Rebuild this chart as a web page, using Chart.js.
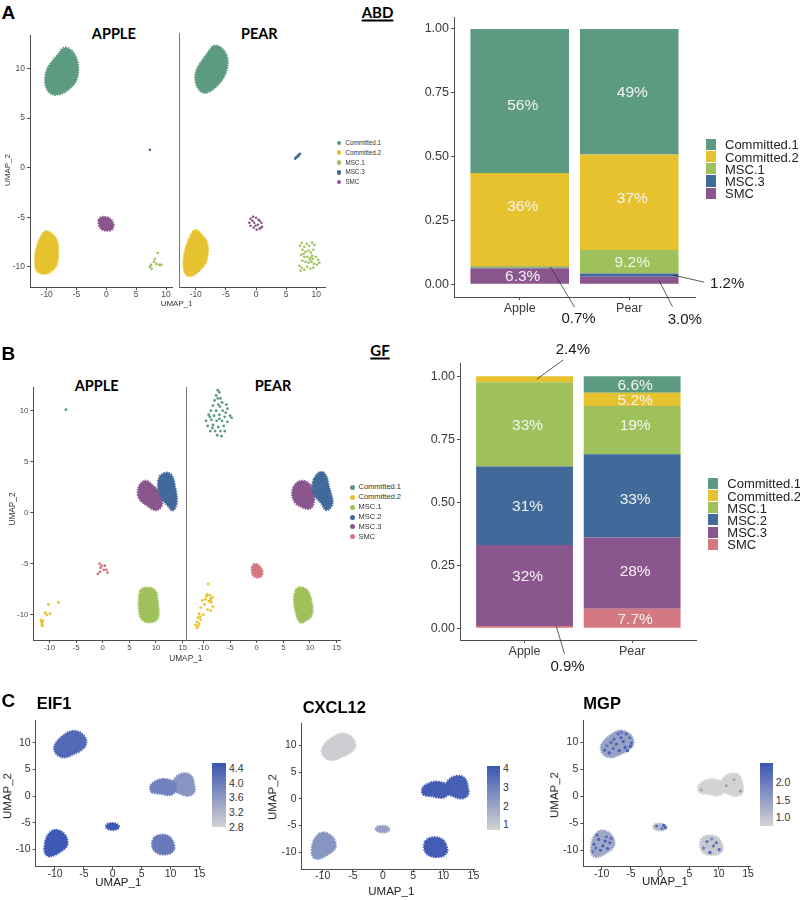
<!DOCTYPE html>
<html>
<head>
<meta charset="utf-8">
<script src="https://cdn.jsdelivr.net/npm/chart.js@4.4.1/dist/chart.umd.min.js"></script>
<style>
  body { margin: 0; background: #fff; }
  #fig { position: relative; width: 800px; height: 900px; overflow: hidden; font-family: "Liberation Sans", Arial, sans-serif; }
  #fig canvas { position: absolute; }
  .t { position: absolute; white-space: nowrap; line-height: 1; }
  .panel { font-weight: bold; font-size: 19px; color: #000; }
  .facet { font-family: Lato, "Open Sans", sans-serif; font-weight: 700; font-size: 14.5px; color: #000; }
  .group { font-family: Lato, "Open Sans", sans-serif; font-weight: 700; font-size: 15px; color: #000; text-decoration: underline; text-decoration-thickness: 1.5px; text-underline-offset: 2px; }
  .gene { font-weight: bold; font-size: 16.5px; color: #000; }
</style>
</head>
<body>
<div id="fig"></div>
<script>
// ---------- data: panel A (ABD) ----------
const abdClusters = ['Committed.1', 'Committed.2', 'MSC.1', 'MSC.3', 'SMC'];
const barGroups = ['Apple', 'Pear'];

// UMAP outlines of dense clusters and single cells of sparse ones (UMAP_1, UMAP_2)
const abdAppleC1 = [[-7.2,12.2],[-6.0,12.0],[-5.0,11.2],[-4.6,10.0],[-4.9,8.8],[-6.0,8.0],[-7.5,7.4],[-9.0,7.3],[-10.0,7.8],[-10.4,8.8],[-10.0,10.0],[-9.0,10.8],[-8.0,11.5]];
const abdAppleC2 = [[-10.0,-6.3],[-9.0,-6.7],[-8.2,-7.3],[-8.0,-8.5],[-8.2,-9.8],[-9.0,-10.4],[-10.3,-10.8],[-11.5,-10.6],[-12.0,-10.0],[-12.0,-8.6],[-11.4,-7.4],[-10.7,-6.6]];
const abdAppleSMC = [[-1.2,-5.0],[0,-4.9],[1.0,-5.3],[1.3,-5.8],[1.0,-6.3],[0,-6.4],[-1.0,-6.2],[-1.4,-5.6]];
const abdAppleMSC1 = [[8.6,-8.6],[7.5,-9.8],[7.6,-10.2],[8.0,-9.5],[8.4,-9.7],[8.9,-9.8],[9.2,-9.8],[7.3,-10.0],[8.1,-9.2]];
const abdAppleMSC3 = [[7.3,1.8]];

const abdPearC1 = [[-7.0,12.2],[-5.8,12.0],[-4.8,11.2],[-4.6,10.2],[-5.2,9.0],[-6.2,8.2],[-7.6,7.5],[-8.8,7.3],[-9.8,7.9],[-10.2,9.0],[-9.7,10.0],[-8.6,10.9],[-7.8,11.6]];
const abdPearC2 = [[-10.0,-6.2],[-9.0,-6.8],[-8.0,-7.5],[-7.9,-8.6],[-8.3,-9.7],[-9.2,-10.3],[-10.3,-10.9],[-11.5,-11.0],[-12.1,-10.2],[-12.0,-8.8],[-11.4,-7.6],[-10.7,-6.6]];
const abdPearSMC = [[-0.9,-5.2],[-0.5,-5.0],[0,-5.1],[0.4,-5.3],[0.9,-5.6],[1.0,-6.0],[0.6,-6.2],[0.1,-6.3],[-0.4,-6.1],[-0.9,-5.9],[-1.1,-5.6],[-0.3,-5.6],[0.3,-5.8],[0.6,-5.4],[-0.6,-5.4],[0.8,-6.1],[-0.1,-5.9]];
const abdPearMSC3 = [[6.5,0.8],[6.7,0.95],[6.9,1.1],[7.1,1.2],[7.3,1.3],[6.6,0.9],[7.0,1.05]];
const abdPearMSC1 = [[7.3,-7.9],[7.6,-7.6],[8.0,-8.0],[8.4,-7.7],[8.8,-7.9],[9.3,-7.6],[9.7,-7.8],[7.7,-8.3],[8.2,-8.5],[8.7,-8.4],[9.1,-8.6],[9.5,-8.3],[7.5,-8.8],[8.0,-9.0],[8.5,-9.0],[9.0,-9.1],[9.4,-9.2],[9.9,-9.0],[10.3,-9.3],[7.7,-9.4],[8.2,-9.5],[8.7,-9.6],[9.2,-9.5],[9.6,-9.7],[10.1,-9.8],[10.5,-9.6],[7.2,-9.9],[7.6,-10.1],[8.0,-10.3],[8.5,-10.0],[9.0,-10.2],[9.5,-10.1],[7.4,-10.4],[8.9,-9.3],[9.3,-8.9],[7.9,-8.7]];

// stacked proportions (%), Apple / Pear
const abdCommitted1 = [56.4, 49.2];
const abdCommitted2 = [36.4, 37.4];
const abdMSC1 = [0.7, 9.2];
const abdMSC3 = [0.2, 1.2];
const abdSMC = [6.3, 3.0];

// ---------- data: panel B (GF) ----------
const gfClusters = ['Committed.1', 'Committed.2', 'MSC.1', 'MSC.2', 'MSC.3', 'SMC'];

const gfAppleC1 = [[-6.9,10.1]];
const gfAppleC2 = [[-8.3,-8.8],[-10.2,-9.0],[-10.8,-9.8],[-9.9,-9.9],[-10.5,-10.0],[-11.6,-10.5],[-11.4,-10.8],[-11.3,-11.1],[-11.5,-10.7],[-11.2,-10.6],[-11.4,-11.0]];
const gfAppleSMC = [[-0.6,-5.0],[-0.2,-5.2],[0.4,-5.2],[0.9,-5.9],[-0.9,-6.0],[0.2,-5.6],[-0.4,-5.4],[0.7,-5.6],[-0.5,-5.8]];
const gfAppleMSC3 = [[7.2,3.0],[8.3,3.2],[9.3,2.7],[10.3,2.3],[11.1,1.6],[11.3,0.8],[10.6,0.3],[9.6,0.2],[8.6,0.6],[7.4,1.0],[6.6,1.5],[6.5,2.3]];
const gfAppleMSC2 = [[11.0,3.8],[12.2,4.0],[13.2,3.6],[13.6,2.5],[14.0,1.5],[13.8,0.5],[13.0,0.1],[12.4,0.6],[11.6,1.0],[10.8,1.6],[10.3,2.5],[10.4,3.3]];
const gfAppleMSC1 = [[7.2,-7.4],[8.3,-7.3],[9.5,-7.4],[10.2,-7.8],[10.4,-9.0],[10.6,-10.0],[10.2,-10.6],[9.0,-10.8],[7.7,-10.7],[6.9,-10.2],[6.7,-9.0],[6.8,-8.0]];

const gfPearC1 = [[-7.3,12.0],[-7.0,11.8],[-7.6,11.5],[-6.8,11.2],[-7.9,11.0],[-6.5,10.8],[-8.2,10.5],[-7.2,10.6],[-5.7,10.6],[-8.6,10.0],[-7.6,10.0],[-6.4,10.0],[-5.5,10.2],[-9.0,9.6],[-8.0,9.5],[-7.0,9.6],[-6.0,9.4],[-5.0,9.5],[-4.7,9.3],[-9.5,9.0],[-8.5,9.1],[-7.5,9.0],[-6.5,9.0],[-5.5,8.9],[-9.2,8.5],[-8.2,8.6],[-7.2,8.4],[-6.2,8.5],[-8.7,8.0],[-7.8,8.0],[-6.8,8.0],[-7.4,7.6],[-6.6,7.5],[-8.3,8.3],[-7.0,9.2],[-6.0,8.0],[-5.8,9.8],[-8.8,9.4],[-7.3,11.2],[-6.9,10.4]];
const gfPearC2 = [[-9.1,-7.0],[-9.3,-8.0],[-8.8,-8.1],[-8.3,-8.3],[-9.6,-8.5],[-8.7,-8.6],[-9.0,-8.7],[-8.5,-8.8],[-10.2,-8.6],[-9.8,-9.0],[-8.2,-9.2],[-10.5,-9.3],[-9.2,-9.5],[-8.6,-9.6],[-10.8,-9.9],[-10.0,-10.0],[-11.0,-10.3],[-10.5,-10.5],[-11.2,-10.7],[-10.8,-10.9],[-11.5,-11.0],[-11.2,-11.3],[-11.0,-11.1],[-10.6,-10.2],[-8.6,-8.4],[-9.4,-8.2]];
const gfPearSMC = [[-0.7,-5.0],[0.1,-5.0],[0.9,-5.4],[1.2,-5.9],[0.9,-6.3],[0,-6.4],[-0.8,-6.2],[-1.0,-5.6]];
const gfPearMSC3 = [[7.3,2.9],[8.4,3.2],[9.6,3.0],[10.6,2.4],[10.9,1.5],[10.6,0.6],[9.7,0.3],[8.6,0.5],[7.4,0.8],[6.7,1.4],[6.6,2.2]];
const gfPearMSC2 = [[11.2,3.8],[12.3,4.1],[13.2,3.6],[13.5,2.6],[14.2,1.5],[14.3,0.8],[13.6,0.3],[12.8,0.2],[12.2,0.9],[11.4,1.3],[10.6,1.8],[10.3,2.8]];
const gfPearMSC1 = [[7.6,-7.3],[8.8,-7.3],[9.8,-7.7],[10.3,-8.6],[10.6,-9.6],[10.2,-10.3],[9.2,-10.6],[8.3,-10.9],[7.6,-10.4],[7.2,-9.6],[6.9,-8.6],[7.1,-7.8]];

const gfCommitted1 = [0, 6.6];
const gfCommitted2 = [2.4, 5.2];
const gfMSC1 = [33.4, 19.2];
const gfMSC2 = [31.2, 33.0];
const gfMSC3 = [32.1, 28.3];
const gfSMC = [0.9, 7.7];

// ---------- data: panel C (feature plots, combined UMAP) ----------
const cOutC1 = [[-6.5,12.3],[-5.3,11.8],[-4.5,10.6],[-4.6,9.4],[-5.5,8.5],[-6.8,7.8],[-8.3,7.1],[-9.6,7.5],[-10.3,8.8],[-9.9,10.1],[-8.8,11.2],[-7.6,12.1]];
const cOutC2 = [[-10.0,-6.1],[-8.6,-6.7],[-7.8,-8.0],[-7.8,-9.4],[-9.0,-10.4],[-10.8,-11.5],[-11.9,-10.8],[-11.8,-8.6],[-11.2,-7.0]];
const cOutMSC1 = [[7.3,-7.4],[8.8,-7.1],[10.0,-7.6],[10.5,-8.6],[10.8,-9.8],[10.2,-10.7],[9.0,-11.0],[7.8,-10.8],[6.9,-10.0],[6.7,-8.6]];
const cOutMSC2 = [[10.5,3.1],[11.3,4.0],[12.4,4.4],[13.5,4.1],[14.0,3.0],[14.1,2.0],[14.3,1.0],[13.7,0.1],[12.5,0.0],[11.6,0.5],[10.6,0.8],[10.2,1.8]];
const cOutMSC3 = [[6.4,1.0],[6.5,2.2],[7.5,2.9],[8.6,3.3],[9.8,3.1],[10.9,2.6],[11.1,1.4],[10.5,0.3],[9.4,0.1],[8.2,0.5],[7.1,0.5]];
const cOutSMC = [[-1.2,-5.3],[-0.4,-5.0],[0.6,-5.1],[1.2,-5.6],[0.9,-6.2],[-0.2,-6.4],[-1.2,-6.0]];

// mean expression per cluster: Committed.1, Committed.2, MSC.1, MSC.2, MSC.3, SMC
const eif1Mean = [4.28, 4.5, 4.05, 3.66, 3.93, 4.5];
const cxcl12Mean = [0.86, 2.4, 3.95, 3.85, 3.95, 2.06];
const mgpMean = [1.46, 1.37, 0.89, 0.75, 0.75, 1.1];
// single high MGP cells [UMAP_1, UMAP_2, expression]
const mgpCells = [[-8.7,8.1,2.4],[-7.5,9.7,2.3],[-6.0,9.1,2.4],[-5.2,10.9,2.2],[-5.8,11.6,2.3],[-7.0,8.5,2.4],[-7.9,10.6,2.2],[-9.1,9.4,2.1],[-6.3,10.2,2.4],[-4.9,9.9,2.3],[-7.2,11.6,2.2],[-5.6,8.5,2.4],[-8.4,10.0,2.3],[-6.7,10.9,2.4],[-8.0,8.9,2.2],[-6.6,11.9,2.1],[-9.5,8.6,2.3],[-5.1,9.3,2.4],
  [-10.5,-8.0,2.3],[-9.2,-7.5,2.2],[-11.3,-8.9,2.3],[-9.8,-9.2,2.4],[-8.6,-8.6,2.2],[-10.2,-10.0,2.3],[-11.0,-9.6,2.1],[-9.4,-8.3,2.4],[-10.8,-7.2,2.2],[-9.0,-9.7,2.3],[-11.5,-10.3,2.0],[-8.4,-7.8,2.2],
  [0.6,-5.4,2.4],[0.9,-5.8,2.3],[-0.6,-5.5,2.1],[0.3,-6.0,2.0],
  [8.0,-8.4,2.1],[9.1,-9.2,2.0],[8.5,-10.4,2.4],[7.4,-9.6,1.9],[9.6,-8.6,2.1],[8.8,-7.9,1.8],[10.1,-9.9,2.2],
  [11.3,2.0,1.4],[13.7,1.0,1.5],[7.0,1.2,1.3],[12.6,3.1,1.3]];

const umapX = [-10, -5, 0, 5, 10];
const umapXWide = [-10, -5, 0, 5, 10, 15];
const umapY = [-10, -5, 0, 5, 10];
const propTicks = [0, 0.25, 0.5, 0.75, 1];
const eif1Ticks = [2.8, 3.2, 3.6, 4.0, 4.4];
const cxcl12Ticks = [1, 2, 3, 4];
const mgpTicks = [1.0, 1.5, 2.0];

// ---------- styles ----------
const abdColors = { 'Committed.1': '#5c9a81', 'Committed.2': '#e6c22f', 'MSC.1': '#9fc15b', 'MSC.3': '#41699a', 'SMC': '#8b568d' };
const gfColors = { 'Committed.1': '#5c9a81', 'Committed.2': '#e6c22f', 'MSC.1': '#9fc15b', 'MSC.2': '#41699a', 'MSC.3': '#8b568d', 'SMC': '#d47882' };
const LOW = [211, 211, 211], HIGH = [59, 86, 178];
const AX = '#4d4d4d';

Chart.defaults.font.family = '"Liberation Sans", Arial, sans-serif';
const fig = document.getElementById('fig');

function text(str, x, y, css, mode) {
  const d = document.createElement('div');
  d.className = 't';
  d.textContent = str;
  d.style.cssText += css || '';
  d.style.left = x + 'px';
  d.style.top = y + 'px';
  d.style.transform = mode === 'l' ? 'translateY(-50%)'
    : mode === 'v' ? 'translate(-50%,-50%) rotate(-90deg)' : 'translate(-50%,-50%)';
  fig.appendChild(d);
  return d;
}

function canvasAt(b) {
  const c = document.createElement('canvas');
  c.width = b.w; c.height = b.h;
  c.style.left = b.x + 'px'; c.style.top = b.y + 'px';
  c.style.width = b.w + 'px'; c.style.height = b.h + 'px';
  fig.appendChild(c);
  return c;
}

// padding that puts the chart area exactly where the reference has it
function pad(b, a, yw, xh) {
  return { left: a.l - b.x - yw, top: a.t - b.y, right: b.x + b.w - a.r, bottom: b.y + b.h - a.b - xh };
}

function shade(v, range) {
  const t = Math.max(0, Math.min(1, (v - range[0]) / (range[1] - range[0])));
  const c = LOW.map((lo, i) => Math.round(lo + (HIGH[i] - lo) * t));
  return `rgb(${c[0]},${c[1]},${c[2]})`;
}

function xAxis(range, ticks, size, xh, color, tpad) {
  return {
    type: 'linear', min: range[0], max: range[1], offset: false,
    afterBuildTicks: s => { s.ticks = ticks.map(v => ({ value: v })); },
    afterFit: s => { s.height = xh; },
    grid: { drawOnChartArea: false, tickLength: 3, color: AX, offset: false },
    border: { color: AX, width: 1 },
    ticks: { font: { size }, color, padding: tpad || 0, maxRotation: 0, autoSkip: false, callback: v => String(v) }
  };
}

function yAxis(range, ticks, size, yw, color, hidden) {
  if (hidden) {
    return {
      type: 'linear', min: range[0], max: range[1],
      afterFit: s => { s.width = 0; },
      ticks: { display: false },
      grid: { drawOnChartArea: false, drawTicks: false },
      border: { color: '#777', width: 1, dash: [2.5, 2] }
    };
  }
  return {
    type: 'linear', min: range[0], max: range[1],
    afterBuildTicks: s => { s.ticks = ticks.map(v => ({ value: v })); },
    afterFit: s => { s.width = yw; },
    grid: { drawOnChartArea: false, tickLength: 3, color: AX },
    border: { color: AX, width: 1 },
    ticks: { font: { size }, color, padding: 2, autoSkip: false, callback: v => String(v) }
  };
}

// fills dense clusters as smooth shapes through the outline points placed by the scales
const blobPlugin = {
  id: 'blobs',
  beforeDatasetsDraw(chart) {
    const { ctx, chartArea: a } = chart;
    ctx.save();
    ctx.beginPath();
    ctx.rect(a.left, a.top, a.width, a.height);
    ctx.clip();
    chart.data.datasets.forEach((ds, i) => {
      if (!ds.blob) return;
      const p = chart.getDatasetMeta(i).data;
      const n = p.length;
      const mid = (u, v) => [(u.x + v.x) / 2, (u.y + v.y) / 2];
      ctx.beginPath();
      let m = mid(p[n - 1], p[0]);
      ctx.moveTo(m[0], m[1]);
      for (let k = 0; k < n; k++) {
        m = mid(p[k], p[(k + 1) % n]);
        ctx.quadraticCurveTo(p[k].x, p[k].y, m[0], m[1]);
      }
      ctx.closePath();
      ctx.fillStyle = ds.blobColor;
      ctx.fill();
      ctx.lineWidth = 2;
      ctx.strokeStyle = ds.blobColor;
      ctx.setLineDash([1.5, 1]);
      ctx.stroke();
      ctx.setLineDash([]);
    });
    ctx.restore();
  }
};

function umap(b, a, xr, yr, xTicks, groups, st) {
  const datasets = groups.map(g => ({
    data: g.cells.map(c => ({ x: c[0], y: c[1] })),
    blob: !!g.blob,
    blobColor: g.color,
    backgroundColor: g.color,
    borderWidth: 0,
    pointRadius: g.blob ? 0 : (g.r || st.r),
    pointHoverRadius: 0
  }));
  return new Chart(canvasAt(b), {
    type: 'scatter',
    data: { datasets },
    options: {
      responsive: false, animation: false, events: [],
      layout: { padding: pad(b, a, st.hideY ? 0 : st.yw, st.xh), autoPadding: false },
      plugins: { legend: { display: false }, tooltip: { enabled: false } },
      scales: {
        x: xAxis(xr, xTicks, st.font, st.xh, st.color, st.xpad),
        y: yAxis(yr, umapY, st.font, st.yw, st.color, st.hideY)
      }
    },
    plugins: [blobPlugin]
  });
}

const pctText = v => (v >= 10 ? Math.round(v) : v.toFixed(1)) + '%';

// shift: per-cluster vertical nudge of the in-bar label [Apple, Pear], px
function stackedBars(b, a, yr, clusters, values, colors, callouts, shift) {
  // bottom segment first
  const datasets = clusters.map((name, i) => ({
    label: name,
    pct: values[i],
    data: values[i].map((v, j) => ({ x: j + 1, y: v / 100 })),
    backgroundColor: colors[name],
    borderWidth: 0,
    categoryPercentage: 1,
    barPercentage: 0.9
  })).reverse();

  const labels = {
    id: 'segLabels',
    afterDraw(chart) {
      const ctx = chart.ctx;
      ctx.save();
      ctx.textAlign = 'center';
      ctx.textBaseline = 'middle';
      ctx.font = '15.5px "Liberation Sans", Arial, sans-serif';
      ctx.fillStyle = '#f4f4f4';
      chart.data.datasets.forEach((ds, i) => {
        chart.getDatasetMeta(i).data.forEach((bar, j) => {
          const v = ds.pct[j];
          const dy = (shift[ds.label] || [0, 0])[j];
          if (v >= 5) ctx.fillText(pctText(v), bar.x + 3, (bar.y + bar.base) / 2 + 1 + dy);
        });
      });
      ctx.font = '15px "Liberation Sans", Arial, sans-serif';
      ctx.fillStyle = '#1a1a1a';
      ctx.strokeStyle = '#333';
      ctx.lineWidth = 0.8;
      callouts.forEach(c => {
        const i = chart.data.datasets.findIndex(ds => ds.label === c.name);
        const bar = chart.getDatasetMeta(i).data[c.bar];
        const ax = bar.x + c.at * bar.width / 2;
        const ay = (bar.y + bar.base) / 2;
        ctx.beginPath();
        ctx.moveTo(ax, ay);
        ctx.lineTo(ax + c.line[0], ay + c.line[1]);
        ctx.stroke();
        ctx.fillText(pctText(chart.data.datasets[i].pct[c.bar]), ax + c.text[0], ay + c.text[1]);
      });
      ctx.restore();
    }
  };

  return new Chart(canvasAt(b), {
    type: 'bar',
    data: { datasets },
    options: {
      responsive: false, animation: false, events: [],
      layout: { padding: pad(b, a, 50, 18), autoPadding: false },
      plugins: { legend: { display: false }, tooltip: { enabled: false } },
      scales: {
        x: {
          type: 'linear', stacked: true, min: 0.4, max: 2.6, offset: false,
          afterBuildTicks: s => { s.ticks = barGroups.map((g, i) => ({ value: i + 1 })); },
          afterFit: s => { s.height = 18; },
          grid: { drawOnChartArea: false, tickLength: 3, color: AX, offset: false },
          border: { color: AX, width: 1 },
          ticks: { font: { size: 12.5 }, color: '#3a3a3a', padding: 1, maxRotation: 0, autoSkip: false, callback: v => barGroups[v - 1] }
        },
        y: {
          stacked: true, min: yr[0], max: yr[1],
          afterBuildTicks: s => { s.ticks = propTicks.map(v => ({ value: v })); },
          afterFit: s => { s.width = 50; },
          grid: { drawOnChartArea: false, tickLength: 3, color: AX },
          border: { color: AX, width: 1 },
          ticks: { font: { size: 12.5 }, color: '#3a3a3a', padding: 2, callback: v => v.toFixed(2) }
        }
      }
    },
    plugins: [labels]
  });
}

function dotLegend(x, y0, dy, names, colors, size, r) {
  names.forEach((n, i) => {
    const y = y0 + i * dy;
    const d = document.createElement('div');
    d.style.cssText = `position:absolute;left:${x - r}px;top:${y - r}px;width:${2 * r}px;height:${2 * r}px;border-radius:50%;background:${colors[n]};`;
    fig.appendChild(d);
    text(n, x + r + 4, y, `font-size:${size}px;color:#333;`, 'l');
  });
}

function keyLegend(x, y0, dy, names, colors) {
  names.forEach((n, i) => {
    const y = y0 + i * dy;
    const d = document.createElement('div');
    d.style.cssText = `position:absolute;left:${x}px;top:${y - dy / 2 + 0.5}px;width:10px;height:${dy - 1}px;background:${colors[n]};`;
    fig.appendChild(d);
    text(n, x + 19, y, 'font-size:13px;color:#222;', 'l');
  });
}

function colorbar(x, top, bottom, w, range, ticks, dec) {
  const d = document.createElement('div');
  d.style.cssText = `position:absolute;left:${x}px;top:${top}px;width:${w}px;height:${bottom - top}px;` +
    `background:linear-gradient(to top, ${shade(range[0], range)}, ${shade(range[1], range)});`;
  fig.appendChild(d);
  ticks.forEach(v => {
    const y = bottom - (v - range[0]) / (range[1] - range[0]) * (bottom - top);
    text(v.toFixed(dec), x + w + 3, y, 'font-size:10.5px;color:#333;', 'l');
  });
}

// ---------- panel A ----------
text('A', 8.3, 11.7, '', '').className = 't panel';
text('ABD', 377.5, 11.5, '', '').className = 't group';
text('APPLE', 113.8, 33.8, '', '').className = 't facet';
text('PEAR', 259.3, 33.8, '', '').className = 't facet';

const aStyle = { r: 1.3, font: 8.5, color: AX, yw: 26, xh: 14 };
umap({ x: 0, y: 28, w: 178, h: 280 }, { l: 30, t: 33, r: 172, b: 287 }, [-12.8, 11.0], [-12.03, 13.37], umapX, [
  { cells: abdAppleC1, blob: true, color: abdColors['Committed.1'] },
  { cells: abdAppleC2, blob: true, color: abdColors['Committed.2'] },
  { cells: abdAppleSMC, blob: true, color: abdColors['SMC'] },
  { cells: abdAppleMSC1, color: abdColors['MSC.1'] },
  { cells: abdAppleMSC3, color: abdColors['MSC.3'] }
], aStyle);
umap({ x: 176, y: 28, w: 160, h: 280 }, { l: 179, t: 33, r: 325, b: 287 }, [-12.77, 11.44], [-12.03, 13.37], umapX, [
  { cells: abdPearC1, blob: true, color: abdColors['Committed.1'] },
  { cells: abdPearC2, blob: true, color: abdColors['Committed.2'] },
  { cells: abdPearSMC, color: abdColors['SMC'] },
  { cells: abdPearMSC1, color: abdColors['MSC.1'] },
  { cells: abdPearMSC3, color: abdColors['MSC.3'] }
], Object.assign({}, aStyle, { hideY: true }));
text('UMAP_2', 8.3, 170, 'font-size:8px;color:#333;', 'v');
text('UMAP_1', 176.7, 304, 'font-size:8px;color:#333;', '');
dotLegend(339, 143, 9.75, abdClusters, abdColors, 6.3, 2.4);

stackedBars({ x: 400, y: 0, w: 400, h: 340 }, { l: 454, t: 17, r: 695, b: 297 }, [-0.0497, 1.047],
  abdClusters, [abdCommitted1, abdCommitted2, abdMSC1, abdMSC3, abdSMC], abdColors, [
    { name: 'MSC.1', bar: 0, at: 0.62, line: [24.3, 40.3], text: [28.3, 52.3] },
    { name: 'SMC', bar: 1, at: 0.6, line: [13.7, 26.5], text: [26, 39.5] },
    { name: 'MSC.3', bar: 1, at: 0.89, line: [31, 7], text: [54, 8.5] }
  ], { 'Committed.1': [4, 0], 'Committed.2': [-14, -5] });
keyLegend(706, 144.3, 12.25, abdClusters, abdColors);

// ---------- panel B ----------
text('B', 8.3, 353.3, '', '').className = 't panel';
text('GF', 380, 349.7, '', '').className = 't group';
text('APPLE', 96.7, 386.3, '', '').className = 't facet';
text('PEAR', 273, 386.3, '', '').className = 't facet';

const bStyle = { r: 1.4, font: 7.8, color: AX, yw: 28, xh: 14 };
umap({ x: 0, y: 380, w: 190, h: 280 }, { l: 33.3, t: 387, r: 185.3, b: 640 }, [-13.02, 15.5], [-12.48, 12.32], umapXWide, [
  { cells: gfAppleMSC3, blob: true, color: gfColors['MSC.3'] },
  { cells: gfAppleMSC2, blob: true, color: gfColors['MSC.2'] },
  { cells: gfAppleMSC1, blob: true, color: gfColors['MSC.1'] },
  { cells: gfAppleC1, color: gfColors['Committed.1'] },
  { cells: gfAppleC2, color: gfColors['Committed.2'] },
  { cells: gfAppleSMC, color: gfColors['SMC'] }
], bStyle);
umap({ x: 183, y: 380, w: 165, h: 280 }, { l: 186, t: 387, r: 340, b: 640 }, [-13.26, 15.63], [-12.48, 12.32], umapXWide, [
  { cells: gfPearMSC3, blob: true, color: gfColors['MSC.3'] },
  { cells: gfPearMSC2, blob: true, color: gfColors['MSC.2'] },
  { cells: gfPearMSC1, blob: true, color: gfColors['MSC.1'] },
  { cells: gfPearSMC, blob: true, color: gfColors['SMC'] },
  { cells: gfPearC1, color: gfColors['Committed.1'] },
  { cells: gfPearC2, color: gfColors['Committed.2'] }
], Object.assign({}, bStyle, { hideY: true }));
text('UMAP_2', 11.7, 509.3, 'font-size:8.3px;color:#333;', 'v');
text('UMAP_1', 185.8, 658.3, 'font-size:8.3px;color:#333;', '');
dotLegend(352, 487.3, 9.9, gfClusters, gfColors, 7.5, 2.5);

stackedBars({ x: 400, y: 330, w: 400, h: 345 }, { l: 460, t: 363, r: 696.7, b: 640 }, [-0.0465, 1.0525],
  gfClusters, [gfCommitted1, gfCommitted2, gfMSC1, gfMSC2, gfMSC3, gfSMC], gfColors, [
    { name: 'Committed.2', bar: 0, at: 0.25, line: [26.6, -19.3], text: [36.3, -29] },
    { name: 'SMC', bar: 0, at: 0.66, line: [8, 27], text: [11, 39.5] }
  ], { 'MSC.3': [-9.5, -2.5], 'MSC.1': [0, -5], 'MSC.2': [0, 3] });
keyLegend(708.3, 483.3, 12.2, gfClusters, gfColors);

// ---------- panel C ----------
text('C', 8.3, 700, '', '').className = 't panel';
const cOutlines = [cOutC1, cOutC2, cOutMSC1, cOutMSC2, cOutMSC3, cOutSMC];
const cStyle = { r: 1.6, font: 10.5, color: '#333', yw: 30, xh: 14, xpad: -2 };

function feature(name, nameAt, b, a, xr, yr, means, range, cells) {
  const groups = cOutlines.map((o, i) => ({ cells: o, blob: true, color: shade(means[i], range) }));
  (cells || []).forEach(c => groups.push({ cells: [c], color: shade(c[2], range) }));
  umap(b, a, xr, yr, umapXWide, groups, cStyle);
  text(name, nameAt[0], nameAt[1], '', 'l').className = 't gene';
}

feature('EIF1', [36.7, 703.3], { x: 0, y: 712, w: 210, h: 175 }, { l: 35.7, t: 718, r: 200, b: 866.7 },
  [-13.34, 15.1], [-13.2, 14.18], eif1Mean, [2.79, 4.54]);
colorbar(212, 763, 827, 14, [2.79, 4.54], eif1Ticks, 1);
text('UMAP_1', 118.3, 883, 'font-size:11.5px;color:#222;', '');
text('UMAP_2', 7.5, 795.7, 'font-size:11.5px;color:#222;', 'v');

feature('CXCL12', [302.7, 706.7], { x: 266, y: 715, w: 218, h: 175 }, { l: 301.7, t: 721.7, r: 474, b: 869.3 },
  [-13.48, 15.1], [-13.2, 14.13], cxcl12Mean, [0.69, 4.12]);
colorbar(486.7, 766, 830, 13.3, [0.69, 4.12], cxcl12Ticks, 0);
text('UMAP_1', 391.3, 891.5, 'font-size:11.5px;color:#222;', '');
text('UMAP_2', 273.3, 797, 'font-size:11.5px;color:#222;', 'v');

feature('MGP', [583.3, 703.3], { x: 548, y: 712, w: 212, h: 175 }, { l: 583.3, t: 718, r: 750, b: 866.7 },
  [-13.14, 15.34], [-13.06, 14.14], mgpMean, [0.75, 2.53], mgpCells);
colorbar(760, 763.3, 826, 12.7, [0.75, 2.53], mgpTicks, 1);
text('UMAP_1', 665, 882, 'font-size:11.5px;color:#222;', '');
text('UMAP_2', 554.7, 795, 'font-size:11.5px;color:#222;', 'v');
</script>
</body>
</html>
